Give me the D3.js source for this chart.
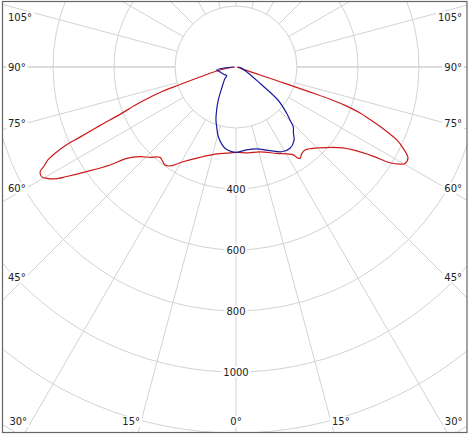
<!DOCTYPE html>
<html><head><meta charset="utf-8">
<script src="https://cdn.jsdelivr.net/npm/d3@7"></script>
<style>
body{margin:0;background:#fff}
svg{display:block}
text{font-family:"DejaVu Sans",sans-serif;font-size:10px;fill:#222}
</style>
</head><body>
<svg id="chart" width="470" height="435"></svg>
<script>
// ---- data ----
const gridValues = [200, 400, 600, 800, 1000, 1200, 1400];
const radiusLabels = [400, 600, 800, 1000];
const spokeAngles = [0, 15, 30, 45, 60, 75, 90, 105, 120, 135, 150, 165, 180, 195, 210, 225, 240, 255, 270, 285, 300, 315, 330, 345];
const angleLabels = [0, 15, 30, 45, 60, 75, 90, 105];

// red plane, left half (gamma in degrees, intensity)
const redLeftGamma = [0, 6, 12.5, 21.7, 29.2, 33.7, 35.9, 38.8, 40.1, 43.6, 47, 50.1, 52.1, 55, 57.1, 58.3, 59.5, 60.4, 61.8, 62.7, 63.7, 64.6, 65.3, 65.8, 66.7, 67.8, 69.7, 71.5, 72.6, 74.5, 77.9, 81.5, 90];
const redLeftI     = [280, 284, 292, 319, 356, 390, 397, 389, 387, 409, 431, 467, 523, 598, 661, 698, 719, 731, 729, 708, 688, 653, 614, 561, 486, 411, 336, 263, 192, 123, 70, 33, 3];
// red plane, right half
const redRightGamma = [0, 8, 15.8, 25.2, 33.1, 33.9, 35, 37.1, 39.7, 46.1, 52.9, 56.7, 58.1, 59.4, 60.3, 62.1, 64.1, 65.6, 66.7, 67.6, 68.6, 69.7, 70.6, 71.1, 71.3, 71.4, 71.5, 71.6, 72, 80, 90];
const redRightI     = [280, 284, 289, 313, 344, 357, 366, 357, 354, 382, 440, 526, 594, 625, 638, 638, 609, 579, 543, 511, 472, 434, 379, 326, 274, 222, 152, 83, 31, 7, 3];

// blue plane, left half
const blueLeftGamma = [0, 2.9, 7.7, 14.2, 17.9, 20.7, 24.2, 28.2, 33.9, 44, 46, 60, 67, 75, 81, 85, 90];
const blueLeftI     = [280, 278, 269, 236, 206, 186, 155, 123, 84, 52, 42, 47, 51, 57, 64, 40, 8];
// blue plane, right half
const blueRightGamma = [0, 7.3, 14.2, 22.1, 28.4, 33.6, 38.5, 41, 43.8, 45.5, 47.6, 51.8, 55.8, 66.3, 78, 90];
const blueRightI     = [280, 274, 277, 296, 316, 320, 306, 287, 271, 248, 225, 175, 95, 38, 18, 8];

// ---- layout ----
const frame = {x0: 2.5, y0: 1.5, x1: 467, y1: 432.5};
const cx = 236, cy = 67;
const r = d3.scaleLinear().domain([0, 200]).range([0, 61]);
const rad = d => d * Math.PI / 180;

const svg = d3.select("#chart");
svg.append("defs").append("clipPath").attr("id", "clip")
  .append("rect").attr("x", frame.x0).attr("y", frame.y0)
  .attr("width", frame.x1 - frame.x0).attr("height", frame.y1 - frame.y0);

const plot = svg.append("g").attr("clip-path", "url(#clip)");
const g = plot.append("g").attr("transform", `translate(${cx},${cy})`);

const rInner = r(gridValues[0]);
const rOuter = 700;
g.selectAll("line.spoke").data(spokeAngles).join("line")
  .attr("class", "spoke")
  .attr("x1", d => rInner * Math.sin(rad(d)))
  .attr("y1", d => rInner * Math.cos(rad(d)))
  .attr("x2", d => rOuter * Math.sin(rad(d)))
  .attr("y2", d => rOuter * Math.cos(rad(d)))
  .attr("stroke", d => (d === 90 || d === 270) ? "#dcdcdc" : "#d2d2d2")
  .attr("stroke-width", d => (d === 90 || d === 270) ? 2 : 1);

g.selectAll("circle.grid").data(gridValues).join("circle")
  .attr("class", "grid")
  .attr("r", d => r(d))
  .attr("fill", "none")
  .attr("stroke", "#d2d2d2")
  .attr("stroke-width", 1);

function planePoints(lg, li, rg, ri) {
  const left = lg.map((a, i) => [Math.PI + rad(a), r(li[i])]).reverse();
  const right = rg.map((a, i) => [Math.PI - rad(a), r(ri[i])]);
  return left.concat(right.slice(1));
}
const radialLine = d3.lineRadial()
  .angle(d => d[0]).radius(d => d[1])
  .curve(d3.curveCatmullRom.alpha(0.5));

g.append("path")
  .attr("d", radialLine(planePoints(redLeftGamma, redLeftI, redRightGamma, redRightI)))
  .attr("fill", "none").attr("stroke", "#cc1a1a").attr("stroke-width", 1.2);
g.append("path")
  .attr("d", radialLine(planePoints(blueLeftGamma, blueLeftI, blueRightGamma, blueRightI)))
  .attr("fill", "none").attr("stroke", "#1a1a9c").attr("stroke-width", 1.2);

function label(parent, x, y, txt, anchor) {
  const gg = parent.append("g");
  const bg = gg.append("rect").attr("fill", "#fff");
  const t = gg.append("text").attr("x", x).attr("y", y).attr("dy", "0.35em")
    .attr("text-anchor", anchor).text(txt);
  const b = t.node().getBBox();
  bg.attr("x", b.x - 2).attr("y", b.y).attr("width", b.width + 4).attr("height", b.height);
}

const labels = plot.append("g");
radiusLabels.forEach(v => label(labels, cx, cy + r(v), String(v), "middle"));

const bottomY = 432, sideDX = 210;
angleLabels.forEach(a => {
  const sides = a === 0 ? [1] : [-1, 1];
  sides.forEach(s => {
    const sn = Math.sin(rad(a)), cs = Math.cos(rad(a));
    let placed = false;
    if (cs > 0) {
      const t = (bottomY - cy) / cs;
      const dx = t * sn;
      if (dx <= sideDX + 2) {
        const x = cx + s * dx + (a === 0 ? 0 : s * 7);
        label(labels, x, 421.5, a + "°", "middle");
        placed = true;
      }
    }
    if (!placed) {
      let y = cy + sideDX * cs / sn;
      y = Math.max(17, Math.min(421.5, y));
      if (s < 0) label(labels, 8, y, a + "°", "start");
      else label(labels, 462, y, a + "°", "end");
    }
  });
});

svg.append("rect").attr("x", frame.x0).attr("y", frame.y0)
  .attr("width", frame.x1 - frame.x0).attr("height", frame.y1 - frame.y0)
  .attr("fill", "none").attr("stroke", "#666").attr("stroke-width", 1.2);
</script>
</body></html>
